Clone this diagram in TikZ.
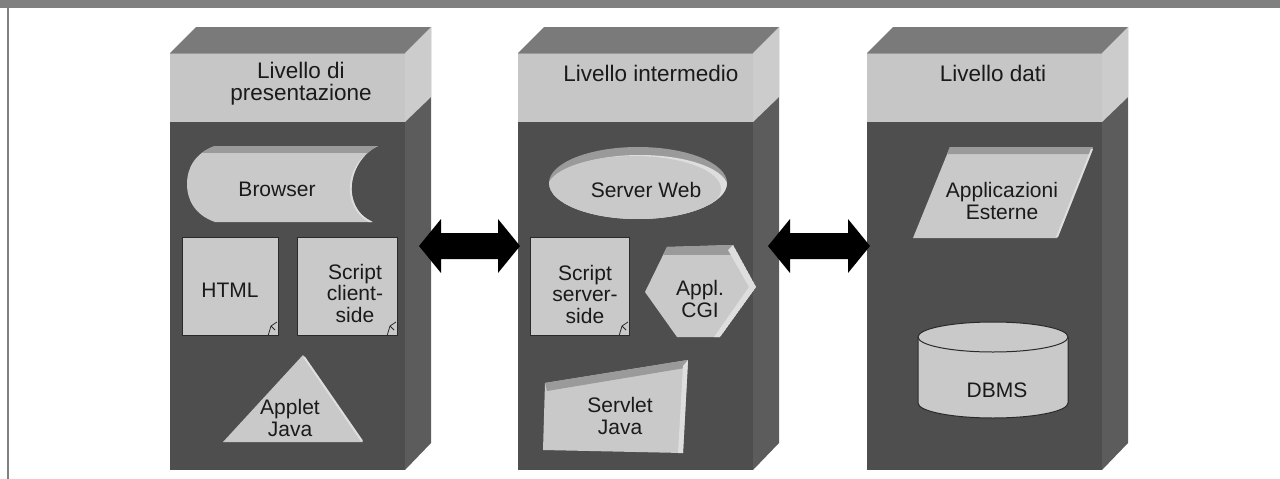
\documentclass[tikz,border=0pt]{standalone}
\usepackage{fontspec}
\setmainfont{Liberation Sans}
\definecolor{bandc}{HTML}{808080}
\definecolor{topc}{HTML}{7A7A7A}
\definecolor{fronthead}{HTML}{C6C6C6}
\definecolor{sidehead}{HTML}{CCCCCC}
\definecolor{frontbody}{HTML}{4E4E4E}
\definecolor{sidebody}{HTML}{5C5C5C}
\definecolor{shapec}{HTML}{C9C9C9}
\definecolor{rimc}{HTML}{9A9A9A}
\definecolor{hic}{HTML}{DEDEDE}
\definecolor{linec}{HTML}{2A2A2A}
\definecolor{textc}{HTML}{1A1A1A}
\newcommand\drawtier[2]{%
  \fill[topc] (#1,53) -- ({#1+26},27) -- ({#1+261},27) -- ({#1+235},53) -- cycle;
  \fill[sidebody] ({#1+235},53) -- ({#1+261},27) -- ({#1+261},443) -- ({#1+235},470) -- cycle;
  \fill[sidehead] ({#1+235},53) -- ({#1+261},27) -- ({#1+261},97) -- ({#1+235},122) -- cycle;
  \fill[frontbody] (#1,122) rectangle ({#1+235},470);
  \fill[fronthead] (#1,53) rectangle ({#1+235},122);
  \draw[rimc, line width=1] (#1,53) -- ({#1+235},53);
  \coordinate (#2) at ({#1+117.5},261);
}
\newcommand\notecurl[2]{%
  \draw[linec, line width=0.8] ({#1-10},{#2+1}) -- ({#1-7},{#2-9}) -- ({#1-1},{#2-13});
  \draw[linec, line width=0.8] ({#1-7},{#2-9}) -- ({#1-3},{#2-5});
}
% fat double arrow between two named coordinates (horizontal)
\newcommand\fatarrow[2]{%
  \fill[black] (#1) -- ([shift={(22,-27)}]#1) -- ([shift={(22,-13)}]#1)
    -- ([shift={(-22,-13)}]#2) -- ([shift={(-22,-27)}]#2) -- (#2)
    -- ([shift={(-22,27)}]#2) -- ([shift={(-22,13)}]#2)
    -- ([shift={(22,13)}]#1) -- ([shift={(22,27)}]#1) -- cycle;
}
\begin{document}
\begin{tikzpicture}[x=1pt,y=-1pt,
  hdr/.style={font=\fontsize{22.5}{22}\selectfont, text=textc, align=center, inner sep=0},
  txt/.style={font=\fontsize{21}{21.5}\selectfont, text=textc, align=center, inner sep=0},
  notebox/.style={fill=shapec, draw=linec, line width=1}]
\useasboundingbox (0,0) rectangle (1280,479);
% frame
\fill[bandc] (0,0) rectangle (1280,8);
\draw[bandc, line width=2] (8,8) -- (8,479);
% tiers
\drawtier{170}{t1}
\drawtier{518}{t2}
\drawtier{867}{t3}
\node[hdr] (h1) at (301,84) {Livello di\\presentazione};
\node[hdr] (h2) at (651,73) {Livello intermedio};
\node[hdr] (h3) at (993,73) {Livello dati};
% ---- tier 1 ----
\begin{scope}
  \clip (215,146) -- (378,146) .. controls (348,160) and (340,208) .. (373,222) -- (215,222)
        .. controls (195,215) and (187,200) .. (187,184) .. controls (187,168) and (195,153) .. (215,146) -- cycle;
  \fill[shapec] (180,140) rectangle (385,225);
  \fill[rimc] (180,140) rectangle (385,153);
  \draw[hic, line width=5] (378,150) .. controls (348,162) and (342,206) .. (372,221);
\end{scope}
\node[txt] (browser) at (277,189) {Browser};
\draw[notebox] (182,237) rectangle (278,335);
\notecurl{278}{335}
\node[txt] (html) at (230,290) {HTML};
\draw[notebox] (297,237) rectangle (397,335);
\notecurl{397}{335}
\node[txt] (sclient) at (355,293) {Script\\client-\\side};
\fill[shapec] (303,355) -- (363,442) -- (223,442) -- cycle;
\draw[hic, line width=2] (304,357) -- (362,441);
\node[txt] (applet) at (290,418) {Applet\\Java};
% ---- tier 2 ----
\begin{scope}
  \clip (638,183) ellipse [x radius=89, y radius=36];
  \fill[rimc] (540,140) rectangle (740,230);
  \fill[hic] (640,188) ellipse [x radius=88, y radius=33];
  \fill[shapec] (634,189) ellipse [x radius=87, y radius=33];
\end{scope}
\node[txt] (web) at (646,190) {Server Web};
\draw[notebox] (530,237) rectangle (629,335);
\notecurl{629}{335}
\node[txt] (sserver) at (585,294) {Script\\server-\\side};
\begin{scope}
  \clip (645,292) -- (667,247) -- (733,245) -- (756,287) -- (720,337) -- (677,337) -- cycle;
  \fill[shapec] (640,240) rectangle (760,340);
  \fill[rimc] (640,240) rectangle (760,255);
  \fill[hic] (733,245) -- (756,287) -- (720,337) -- (714,337) -- (749,287) -- (728,250) -- cycle;
\end{scope}
\node[txt] (cgi) at (700,299) {Appl.\\CGI};
\fill[shapec] (545,383) -- (688,360) -- (683,453) -- (543,450) -- cycle;
\fill[rimc] (545,383) -- (688,360) -- (685,368) -- (547,391) -- cycle;
\fill[hic] (688,360) -- (683,453) -- (678,453) -- (683,366) -- cycle;
\node[txt] (servlet) at (620,416) {Servlet\\Java};
% ---- tier 3 ----
\fill[shapec] (950,147) -- (1093,147) -- (1057,238) -- (913,238) -- cycle;
\fill[rimc] (950,147) -- (1093,147) -- (1090,154) -- (947,154) -- cycle;
\draw[hic, line width=2] (1092,149) -- (1057,237);
\node[txt] (ext) at (1002,201) {Applicazioni\\Esterne};
\fill[shapec] (918,337) rectangle (1068,403);
\fill[shapec] (993,403) ellipse [x radius=75, y radius=15];
\draw[linec, line width=1] (918,337) -- (918,403) arc[start angle=180, end angle=0, x radius=75, y radius=15] -- (1068,337);
\draw[linec, line width=1, fill=shapec] (993,337) ellipse [x radius=75, y radius=15];
\node[txt] (dbms) at (997,390) {DBMS};
% ---- connectors ----
\coordinate (a1l) at (419,246);
\coordinate (a1r) at (520,246);
\coordinate (a2l) at (768,246);
\coordinate (a2r) at (870,246);
\fatarrow{a1l}{a1r}
\fatarrow{a2l}{a2r}
\end{tikzpicture}
\end{document}
